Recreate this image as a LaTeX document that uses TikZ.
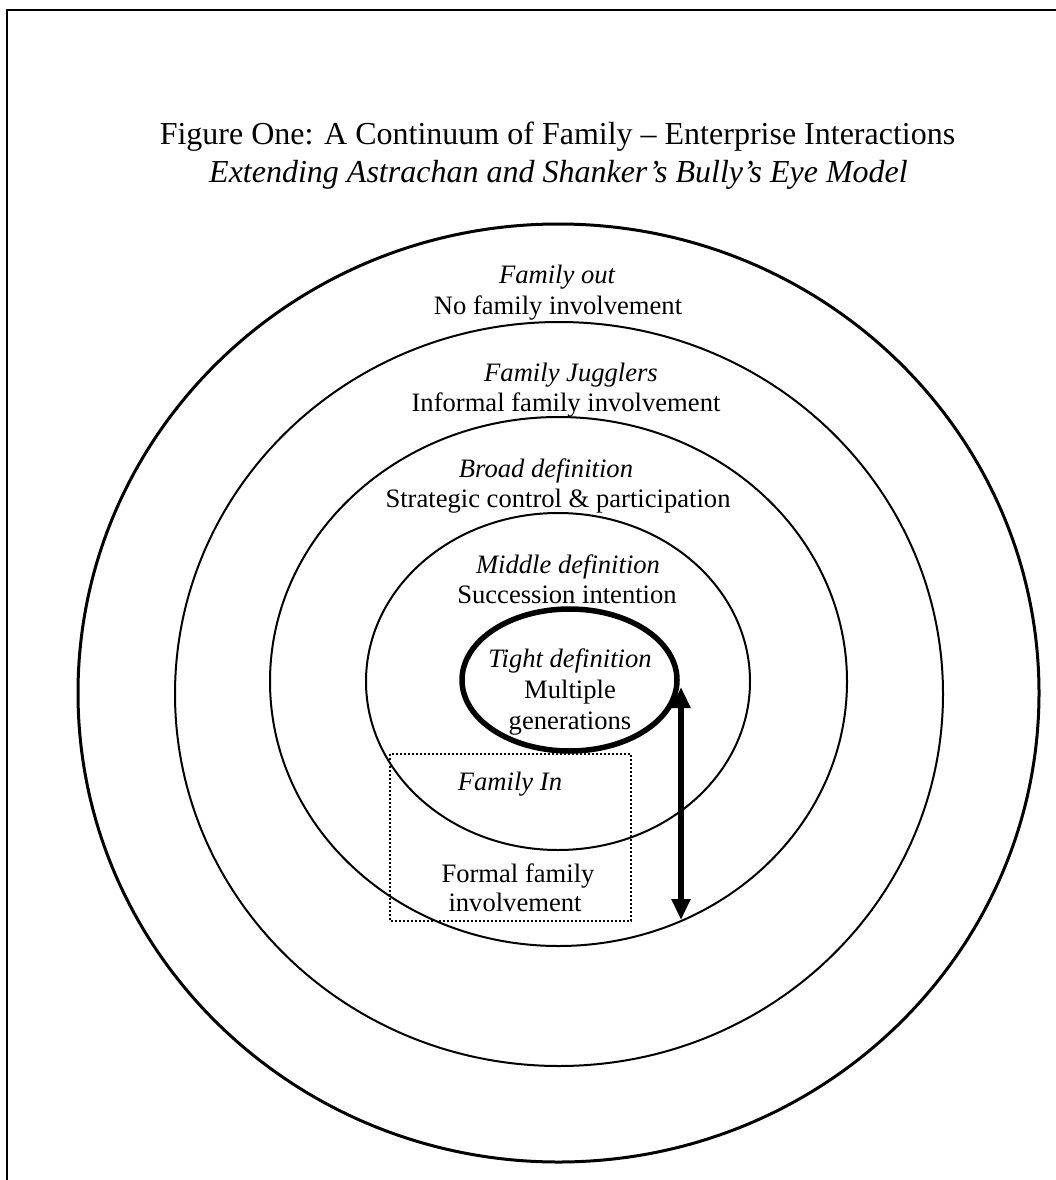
\documentclass[tikz,border=0pt]{standalone}
\usepackage{fontspec}
\setmainfont{Liberation Serif}
\usetikzlibrary{arrows.meta}
\begin{document}
\begin{tikzpicture}[x=1pt,y=-1pt,
  ring/.style={line width=2pt},
  lbl/.style={anchor=base, inner sep=0pt, font=\fontsize{26.6}{31}\selectfont},
  lbli/.style={anchor=base, inner sep=0pt, font=\fontsize{26.6}{31}\selectfont\itshape},
  ttl/.style={anchor=base, inner sep=0pt, font=\fontsize{32}{38}\selectfont},
  ttli/.style={anchor=base, inner sep=0pt, font=\fontsize{32}{38}\selectfont\itshape},
  bigtip/.tip={Triangle[width=18pt,length=21pt]}]
\useasboundingbox (0,0) rectangle (1056,1180);
% frame (cropped on right and bottom)
\draw[line width=1.5pt] (7,1190) -- (7,10) -- (1070,10);
% titles
\node[ttl]  (title) at (557.5,144) {Figure One: A Continuum of Family – Enterprise Interactions};
\node[ttli] (subtitle) at (558.5,182) {Extending Astrachan and Shanker’s Bully’s Eye Model};
% rings
\draw[line width=3pt] (558.5,693) ellipse [x radius=480.5pt, y radius=469pt];
\draw[ring] (559,694) ellipse [x radius=384pt, y radius=372pt];
\draw[ring] (558.5,681.5) ellipse [x radius=288.5pt, y radius=264.5pt];
\draw[ring] (558,681.5) ellipse [x radius=192pt, y radius=168.5pt];
\draw[line width=5.5pt] (569.5,680) ellipse [x radius=107.5pt, y radius=71pt];
% dotted box
\draw[line width=2pt, dash pattern=on 2pt off 2pt] (390,754) rectangle (631,921);
% labels
\node[lbli] (outA) at (557,283) {Family out};
\node[lbl]  (outB) at (558,314) {No family involvement};
\node[lbli] (jugA) at (571,381) {Family Jugglers};
\node[lbl]  (jugB) at (566,411) {Informal family involvement};
\node[lbli] (broA) at (546,477) {Broad definition};
\node[lbl]  (broB) at (558,507) {Strategic control \& participation};
\node[lbli] (midA) at (568,573) {Middle definition};
\node[lbl]  (midB) at (567,603) {Succession intention};
\node[lbli] (tigA) at (570,667) {Tight definition};
\node[lbl]  (tigB) at (570,698) {Multiple};
\node[lbl]  (tigC) at (570,729) {generations};
\node[lbli] (inA)  at (510,790) {Family In};
\node[lbl]  (inB)  at (518,882) {Formal family};
\node[lbl]  (inC)  at (515,911) {involvement};
% double arrow
\coordinate (abot) at (681,920);
\coordinate (atop) at (681,687);
\draw[line width=6pt, bigtip-bigtip] (abot) -- (atop);
\end{tikzpicture}
\end{document}
